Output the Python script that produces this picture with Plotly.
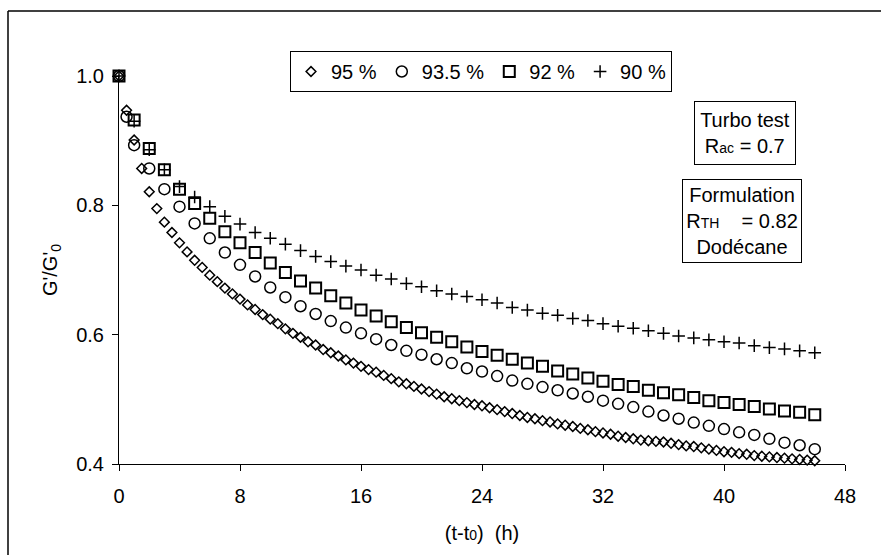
import plotly.graph_objects as go

# ---- data ----
t_95 = [i * 0.5 for i in range(93)]
g_95 = [1.000, 0.947, 0.901, 0.857, 0.821, 0.795, 0.774, 0.758, 0.742, 0.728,
        0.715, 0.704, 0.692, 0.682, 0.672, 0.663, 0.655, 0.646, 0.639, 0.631,
        0.624, 0.617, 0.609, 0.602, 0.596, 0.589, 0.584, 0.577, 0.572, 0.567,
        0.561, 0.556, 0.551, 0.546, 0.542, 0.537, 0.532, 0.527, 0.524, 0.520,
        0.516, 0.512, 0.508, 0.504, 0.501, 0.498, 0.495, 0.492, 0.490, 0.487,
        0.484, 0.481, 0.478, 0.475, 0.472, 0.470, 0.467, 0.465, 0.462, 0.460,
        0.458, 0.455, 0.453, 0.450, 0.448, 0.446, 0.443, 0.441, 0.439, 0.437,
        0.436, 0.435, 0.434, 0.432, 0.430, 0.428, 0.427, 0.425, 0.423, 0.421,
        0.419, 0.418, 0.416, 0.415, 0.413, 0.412, 0.411, 0.410, 0.409, 0.408,
        0.407, 0.406, 0.405]

t_935 = [0, 0.5] + list(range(1, 47))
g_935 = [1.000, 0.937, 0.893, 0.857, 0.825, 0.798, 0.772, 0.749, 0.727, 0.708,
         0.690, 0.673, 0.658, 0.644, 0.632, 0.621, 0.611, 0.602, 0.593, 0.584,
         0.575, 0.569, 0.562, 0.556, 0.548, 0.543, 0.536, 0.529, 0.524, 0.519,
         0.514, 0.509, 0.504, 0.498, 0.493, 0.488, 0.481, 0.475, 0.470, 0.464,
         0.459, 0.454, 0.449, 0.445, 0.439, 0.433, 0.429, 0.423]

t_92 = list(range(0, 47))
g_92 = [1.000, 0.932, 0.888, 0.855, 0.825, 0.803, 0.780, 0.759, 0.742, 0.727,
        0.711, 0.696, 0.683, 0.672, 0.660, 0.649, 0.638, 0.629, 0.620, 0.611,
        0.603, 0.596, 0.589, 0.581, 0.574, 0.568, 0.562, 0.556, 0.551, 0.544,
        0.539, 0.533, 0.528, 0.523, 0.520, 0.514, 0.510, 0.507, 0.503, 0.498,
        0.495, 0.492, 0.489, 0.485, 0.482, 0.480, 0.476]

t_90 = list(range(0, 47))
g_90 = [1.000, 0.930, 0.886, 0.855, 0.829, 0.813, 0.798, 0.783, 0.771, 0.758,
        0.749, 0.740, 0.730, 0.721, 0.713, 0.706, 0.700, 0.692, 0.686, 0.679,
        0.674, 0.668, 0.663, 0.659, 0.654, 0.649, 0.642, 0.638, 0.633, 0.630,
        0.625, 0.622, 0.617, 0.613, 0.610, 0.606, 0.602, 0.598, 0.595, 0.592,
        0.589, 0.587, 0.583, 0.580, 0.578, 0.575, 0.572]

series_names = ["95 %", "93.5 %", "92 %", "90 %"]
x_ticks = [0, 8, 16, 24, 32, 40, 48]
y_ticks = [0.4, 0.6, 0.8, 1.0]

FONT = "Arial, Liberation Sans, Helvetica, sans-serif"

fig = go.Figure()
fig.add_trace(go.Scatter(x=t_95, y=g_95, mode="markers", name=series_names[0],
                         cliponaxis=False,
                         marker=dict(symbol="diamond-open", size=7.5, color="black",
                                     line=dict(width=1.5, color="black"))))
fig.add_trace(go.Scatter(x=t_935, y=g_935, mode="markers", name=series_names[1],
                         cliponaxis=False,
                         marker=dict(symbol="circle-open", size=11, color="black",
                                     line=dict(width=1.5, color="black"))))
fig.add_trace(go.Scatter(x=t_92, y=g_92, mode="markers", name=series_names[2],
                         cliponaxis=False,
                         marker=dict(symbol="square-open", size=11, color="black",
                                     line=dict(width=2, color="black"))))
fig.add_trace(go.Scatter(x=t_90, y=g_90, mode="markers", name=series_names[3],
                         cliponaxis=False,
                         marker=dict(symbol="cross-thin-open", size=9, color="black",
                                     line=dict(width=1.5, color="black"))))

W, H = 881, 555
L, R, T, B = 119, 36, 76, 91
pw, ph = W - L - R, H - T - B

def px(x):
    return (x - L) / pw

def py(y):
    return (H - B - y) / ph

fig.update_layout(
    width=W, height=H,
    margin=dict(l=L, r=R, t=T, b=B, pad=0, autoexpand=False),
    paper_bgcolor="white", plot_bgcolor="white",
    font=dict(family=FONT, size=20, color="black"),
    showlegend=True,
    legend=dict(orientation="h", x=px(290), y=py(51), xanchor="left", yanchor="top",
                bordercolor="black", borderwidth=1, bgcolor="white",
                font=dict(size=20), itemsizing="trace", traceorder="normal",
                itemwidth=30),
    xaxis=dict(range=[0, 48], tickvals=x_ticks, ticks="outside", ticklen=6,
               tickcolor="black", showline=True, linecolor="black", linewidth=1,
               showgrid=False, zeroline=False, tickfont=dict(size=20),
               ticklabelstandoff=8, automargin=False,
               title=dict(text="(t-t<span style='font-size:14px'>0</span>)  (h)",
                          font=dict(size=20), standoff=19)),
    yaxis=dict(range=[0.4, 1.0], tickvals=y_ticks, tickformat=".1f", ticks="outside",
               ticklen=6, tickcolor="black", showline=True, linecolor="black",
               linewidth=1, showgrid=False, zeroline=False, tickfont=dict(size=20),
               ticklabelstandoff=4, automargin=False,
               title=dict(text="G'/G'<sub>0</sub>", font=dict(size=20), standoff=13)),
)

# outer frame of the chart area
fig.add_shape(type="line", xref="paper", yref="paper", x0=px(8), x1=px(900),
              y0=py(11), y1=py(11), line=dict(color="black", width=1.5))
fig.add_shape(type="line", xref="paper", yref="paper", x0=px(8), x1=px(8),
              y0=py(11), y1=py(600), line=dict(color="black", width=1.5))

# text boxes
fig.add_annotation(xref="paper", yref="paper", x=px(745), y=py(101),
                   xanchor="center", yanchor="top", showarrow=False,
                   text="Turbo test<br>R<span style='font-size:14px'>ac</span> = 0.7",
                   align="center", bordercolor="black", borderwidth=1, bgcolor="white",
                   width=98, height=60, font=dict(size=20))
fig.add_annotation(xref="paper", yref="paper", x=px(742), y=py(179),
                   xanchor="center", yanchor="top", showarrow=False,
                   text="Formulation<br>R<span style='font-size:14px'>TH</span>    = 0.82<br>Dodécane",
                   align="center", bordercolor="black", borderwidth=1, bgcolor="white",
                   width=116, height=80, font=dict(size=20))

fig.write_html("out.html", config={"displayModeBar": False},
               post_script="document.body.style.margin='0';document.body.style.overflow='hidden';")
